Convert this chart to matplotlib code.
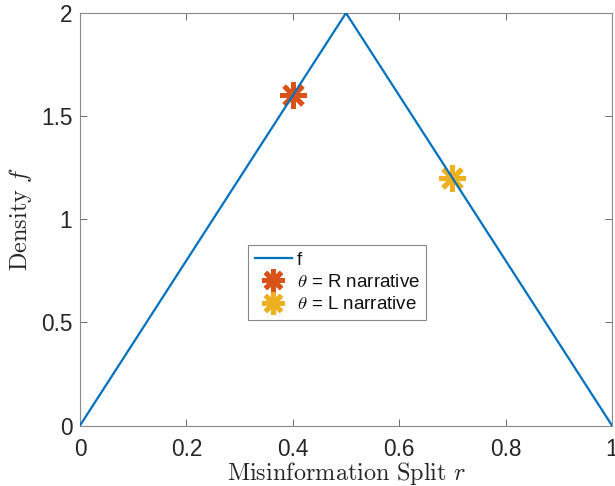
import matplotlib
matplotlib.use("Agg")
import matplotlib.pyplot as plt

plt.rcParams['font.family'] = ['Liberation Sans', 'DejaVu Sans']
plt.rcParams['mathtext.fontset'] = 'cm'

r_vals = [0.0, 0.5, 1.0]
f_vals = [0.0, 2.0, 0.0]
theta_R = (0.4, 1.6)
theta_L = (0.7, 1.2)
xticks = [0, 0.2, 0.4, 0.6, 0.8, 1]
xticklabels = ['0', '0.2', '0.4', '0.6', '0.8', '1']
yticks = [0, 0.5, 1, 1.5, 2]
yticklabels = ['0', '0.5', '1', '1.5', '2']

fig = plt.figure(figsize=(6.15, 4.86), dpi=100)
ax = fig.add_axes([80/615, 1-425.5/486, 532/615, 412.5/486])

h_f, = ax.plot(r_vals, f_vals, color='#0072BD', lw=1.6, label='f', zorder=3)
h_R, = ax.plot([theta_R[0]], [theta_R[1]], linestyle='none', marker=(8, 2, 0), ms=19,
               mew=3.5, color='#D95319', label=r'$\theta$ = R narrative', zorder=2)
h_L, = ax.plot([theta_L[0]], [theta_L[1]], linestyle='none', marker=(8, 2, 0), ms=19,
               mew=3.5, color='#EDB120', label=r'$\theta$ = L narrative', zorder=2)

ax.set_xlim(0, 1)
ax.set_ylim(0, 2)
ax.set_xticks(xticks)
ax.set_xticklabels(xticklabels)
ax.set_yticks(yticks)
ax.set_yticklabels(yticklabels)
ax.tick_params(direction='in', top=True, right=True, length=5, width=0.6,
               color='#555555', labelsize=16.3, labelcolor='#262626')
ax.tick_params(axis='x', pad=9.0)
ax.tick_params(axis='y', pad=5.5)
for s in ax.spines.values():
    s.set_color('#8a8a8a')
    s.set_linewidth(0.8)

ax.set_xlabel(r'$\mathrm{Misinformation\ Split}\ r$', fontsize=17.5, color='#262626', labelpad=-0.5)
ax.set_ylabel(r'$\mathrm{Density}\ f$', fontsize=17.5, color='#262626', labelpad=5)

leg = ax.legend(handles=[h_f, h_R, h_L], loc='lower left', bbox_to_anchor=(0.316, 0.256),
                fontsize=13.5, frameon=True, fancybox=False, edgecolor='#888888', framealpha=1,
                handlelength=2.0, handletextpad=0.25, borderpad=0.35, labelspacing=0.28,
                borderaxespad=0, markerscale=0.85)
leg.get_frame().set_linewidth(0.8)
for t in leg.get_texts():
    t.set_color('#111111')

fig.savefig('out.png', dpi=100)
